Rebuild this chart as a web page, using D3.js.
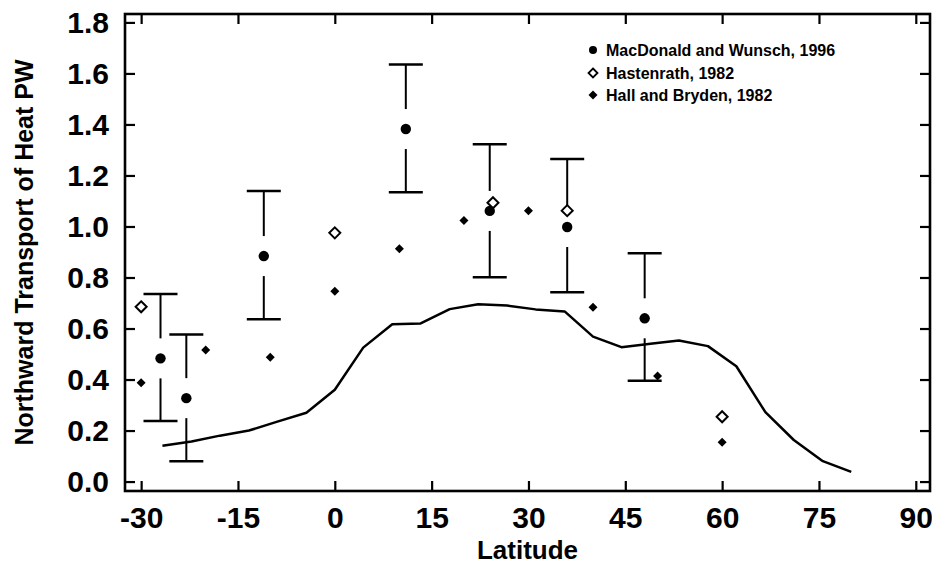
<!DOCTYPE html>
<html>
<head>
<meta charset="utf-8">
<script src="https://cdn.jsdelivr.net/npm/d3@7"></script>
<style>
  html, body { margin: 0; padding: 0; background: #fff; }
  svg { display: block; }
  text { font-family: "Liberation Sans", Arial, Helvetica, sans-serif; font-weight: bold; fill: #000; }
</style>
</head>
<body>
<svg id="chart" width="932" height="564"></svg>
<script>
// ---- data ----
const xTicks = [-30, -15, 0, 15, 30, 45, 60, 75, 90];
const yTicks = [0.0, 0.2, 0.4, 0.6, 0.8, 1.0, 1.2, 1.4, 1.6, 1.8];

// MacDonald and Wunsch, 1996 (filled circles with error bars)
const macLat  = [-27, -23, -11, 11, 24, 36, 48];
const macVal  = [0.483, 0.327, 0.884, 1.382, 1.061, 0.998, 0.640];
const macLow  = [0.237, 0.080, 0.636, 1.134, 0.801, 0.742, 0.395];
const macHigh = [0.735, 0.577, 1.139, 1.635, 1.322, 1.265, 0.895];

// Hastenrath, 1982 (open diamonds)
const hastLat = [-30, 0, 24.5, 36, 60];
const hastVal = [0.685, 0.975, 1.093, 1.062, 0.254];

// Hall and Bryden, 1982 (small filled diamonds)
const hallLat = [-30, -20, -10, 0, 10, 20, 30, 40, 50, 60];
const hallVal = [0.387, 0.516, 0.487, 0.746, 0.913, 1.023, 1.062, 0.683, 0.414, 0.154];

// model curve
const modelLat = [-26.7, -22.2, -17.8, -13.3, -8.9, -4.4, 0, 4.4, 8.9, 13.3, 17.8, 22.2, 26.7,
                  31.1, 35.6, 40, 44.4, 48.9, 53.3, 57.8, 62.2, 66.7, 71.1, 75.6, 80];
const modelVal = [0.140, 0.157, 0.180, 0.200, 0.235, 0.270, 0.360, 0.525, 0.617, 0.620, 0.676, 0.695, 0.690,
                  0.675, 0.667, 0.568, 0.527, 0.540, 0.553, 0.531, 0.452, 0.272, 0.163, 0.080, 0.038];

const legendLabels = ["MacDonald and Wunsch, 1996", "Hastenrath, 1982", "Hall and Bryden, 1982"];

// ---- layout ----
const svg = d3.select("#chart");
const L = 125, R = 930, T = 14, B = 491;
const x = d3.scaleLinear().domain([-32.5, 92.2]).range([L, R]);
const y = d3.scaleLinear().domain([-0.037, 1.833]).range([B, T]);

// frame
svg.append("rect").attr("x", L).attr("y", T).attr("width", R - L).attr("height", B - T)
  .attr("fill", "none").attr("stroke", "#000").attr("stroke-width", 2.6);

function styleAxis(g) {
  g.select(".domain").remove();
  g.selectAll(".tick line").attr("stroke", "#000").attr("stroke-width", 2.2);
}
const tickFont = 30;

// bottom axis
svg.append("g").attr("transform", `translate(0,${B})`)
  .call(d3.axisBottom(x).tickValues(xTicks).tickSizeInner(-10).tickSizeOuter(0).tickPadding(16)
        .tickFormat(d => String(d)))
  .call(styleAxis)
  .call(g => g.selectAll("text").attr("font-size", tickFont).attr("font-family", "Liberation Sans, Arial, sans-serif").attr("font-weight", "bold"));

// top axis (ticks only)
svg.append("g").attr("transform", `translate(0,${T})`)
  .call(d3.axisTop(x).tickValues(xTicks).tickSizeInner(-10).tickSizeOuter(0).tickFormat(""))
  .call(styleAxis);

// left axis
svg.append("g").attr("transform", `translate(${L},0)`)
  .call(d3.axisLeft(y).tickValues(yTicks).tickSizeInner(-10).tickSizeOuter(0).tickPadding(16)
        .tickFormat(d3.format(".1f")))
  .call(styleAxis)
  .call(g => g.selectAll("text").attr("font-size", tickFont).attr("font-family", "Liberation Sans, Arial, sans-serif").attr("font-weight", "bold"));

// right axis (ticks only)
svg.append("g").attr("transform", `translate(${R},0)`)
  .call(d3.axisRight(y).tickValues(yTicks).tickSizeInner(-10).tickSizeOuter(0).tickFormat(""))
  .call(styleAxis);

// axis titles
svg.append("text").attr("x", (L + R) / 2).attr("y", 559).attr("text-anchor", "middle")
  .attr("font-size", 26).text("Latitude");
svg.append("text").attr("transform", `translate(33,${(T + B) / 2}) rotate(-90)`)
  .attr("text-anchor", "middle").attr("font-size", 25).text("Northward Transport of Heat PW");

// model line
const line = d3.line().x(d => x(d[0])).y(d => y(d[1]));
svg.append("path").datum(modelLat.map((v, i) => [v, modelVal[i]]))
  .attr("d", line).attr("fill", "none").attr("stroke", "#000").attr("stroke-width", 2.5)
  .attr("stroke-linejoin", "round");

// error bars with gap around the point
const gap = 20, capHalf = 17;
const eb = svg.append("g").attr("stroke", "#000");
macLat.forEach((lat, i) => {
  const cx = x(lat), cy = y(macVal[i]), yt = y(macHigh[i]), yb = y(macLow[i]);
  eb.append("line").attr("x1", cx).attr("x2", cx).attr("y1", yt).attr("y2", cy - gap).attr("stroke-width", 2);
  eb.append("line").attr("x1", cx).attr("x2", cx).attr("y1", cy + gap).attr("y2", yb).attr("stroke-width", 2);
  eb.append("line").attr("x1", cx - capHalf).attr("x2", cx + capHalf).attr("y1", yt).attr("y2", yt).attr("stroke-width", 2.5);
  eb.append("line").attr("x1", cx - capHalf).attr("x2", cx + capHalf).attr("y1", yb).attr("y2", yb).attr("stroke-width", 2.5);
});

// marker shapes
function diamond(size) { return `M0,${-size}L${size},0L0,${size}L${-size},0Z`; }

// Hall and Bryden: small filled diamonds
svg.append("g").selectAll("path").data(hallLat.map((v, i) => [v, hallVal[i]])).join("path")
  .attr("transform", d => `translate(${x(d[0])},${y(d[1])})`)
  .attr("d", diamond(4.5)).attr("fill", "#000");

// Hastenrath: open diamonds
svg.append("g").selectAll("path").data(hastLat.map((v, i) => [v, hastVal[i]])).join("path")
  .attr("transform", d => `translate(${x(d[0])},${y(d[1])})`)
  .attr("d", diamond(5.5)).attr("fill", "#fff").attr("stroke", "#000").attr("stroke-width", 2);

// MacDonald and Wunsch: filled circles
svg.append("g").selectAll("circle").data(macLat.map((v, i) => [v, macVal[i]])).join("circle")
  .attr("cx", d => x(d[0])).attr("cy", d => y(d[1])).attr("r", 5.2).attr("fill", "#000");

// legend
const lg = svg.append("g");
const lgX = 593, lgY = [50, 73, 95];
lg.append("circle").attr("cx", lgX).attr("cy", lgY[0]).attr("r", 4).attr("fill", "#000");
lg.append("path").attr("transform", `translate(${lgX},${lgY[1]})`).attr("d", diamond(4.5))
  .attr("fill", "#fff").attr("stroke", "#000").attr("stroke-width", 1.8);
lg.append("path").attr("transform", `translate(${lgX},${lgY[2]})`).attr("d", diamond(4.5)).attr("fill", "#000");
legendLabels.forEach((t, i) => {
  lg.append("text").attr("x", 606).attr("y", lgY[i]).attr("dy", "0.36em")
    .attr("font-size", 16).text(t);
});
</script>
</body>
</html>
